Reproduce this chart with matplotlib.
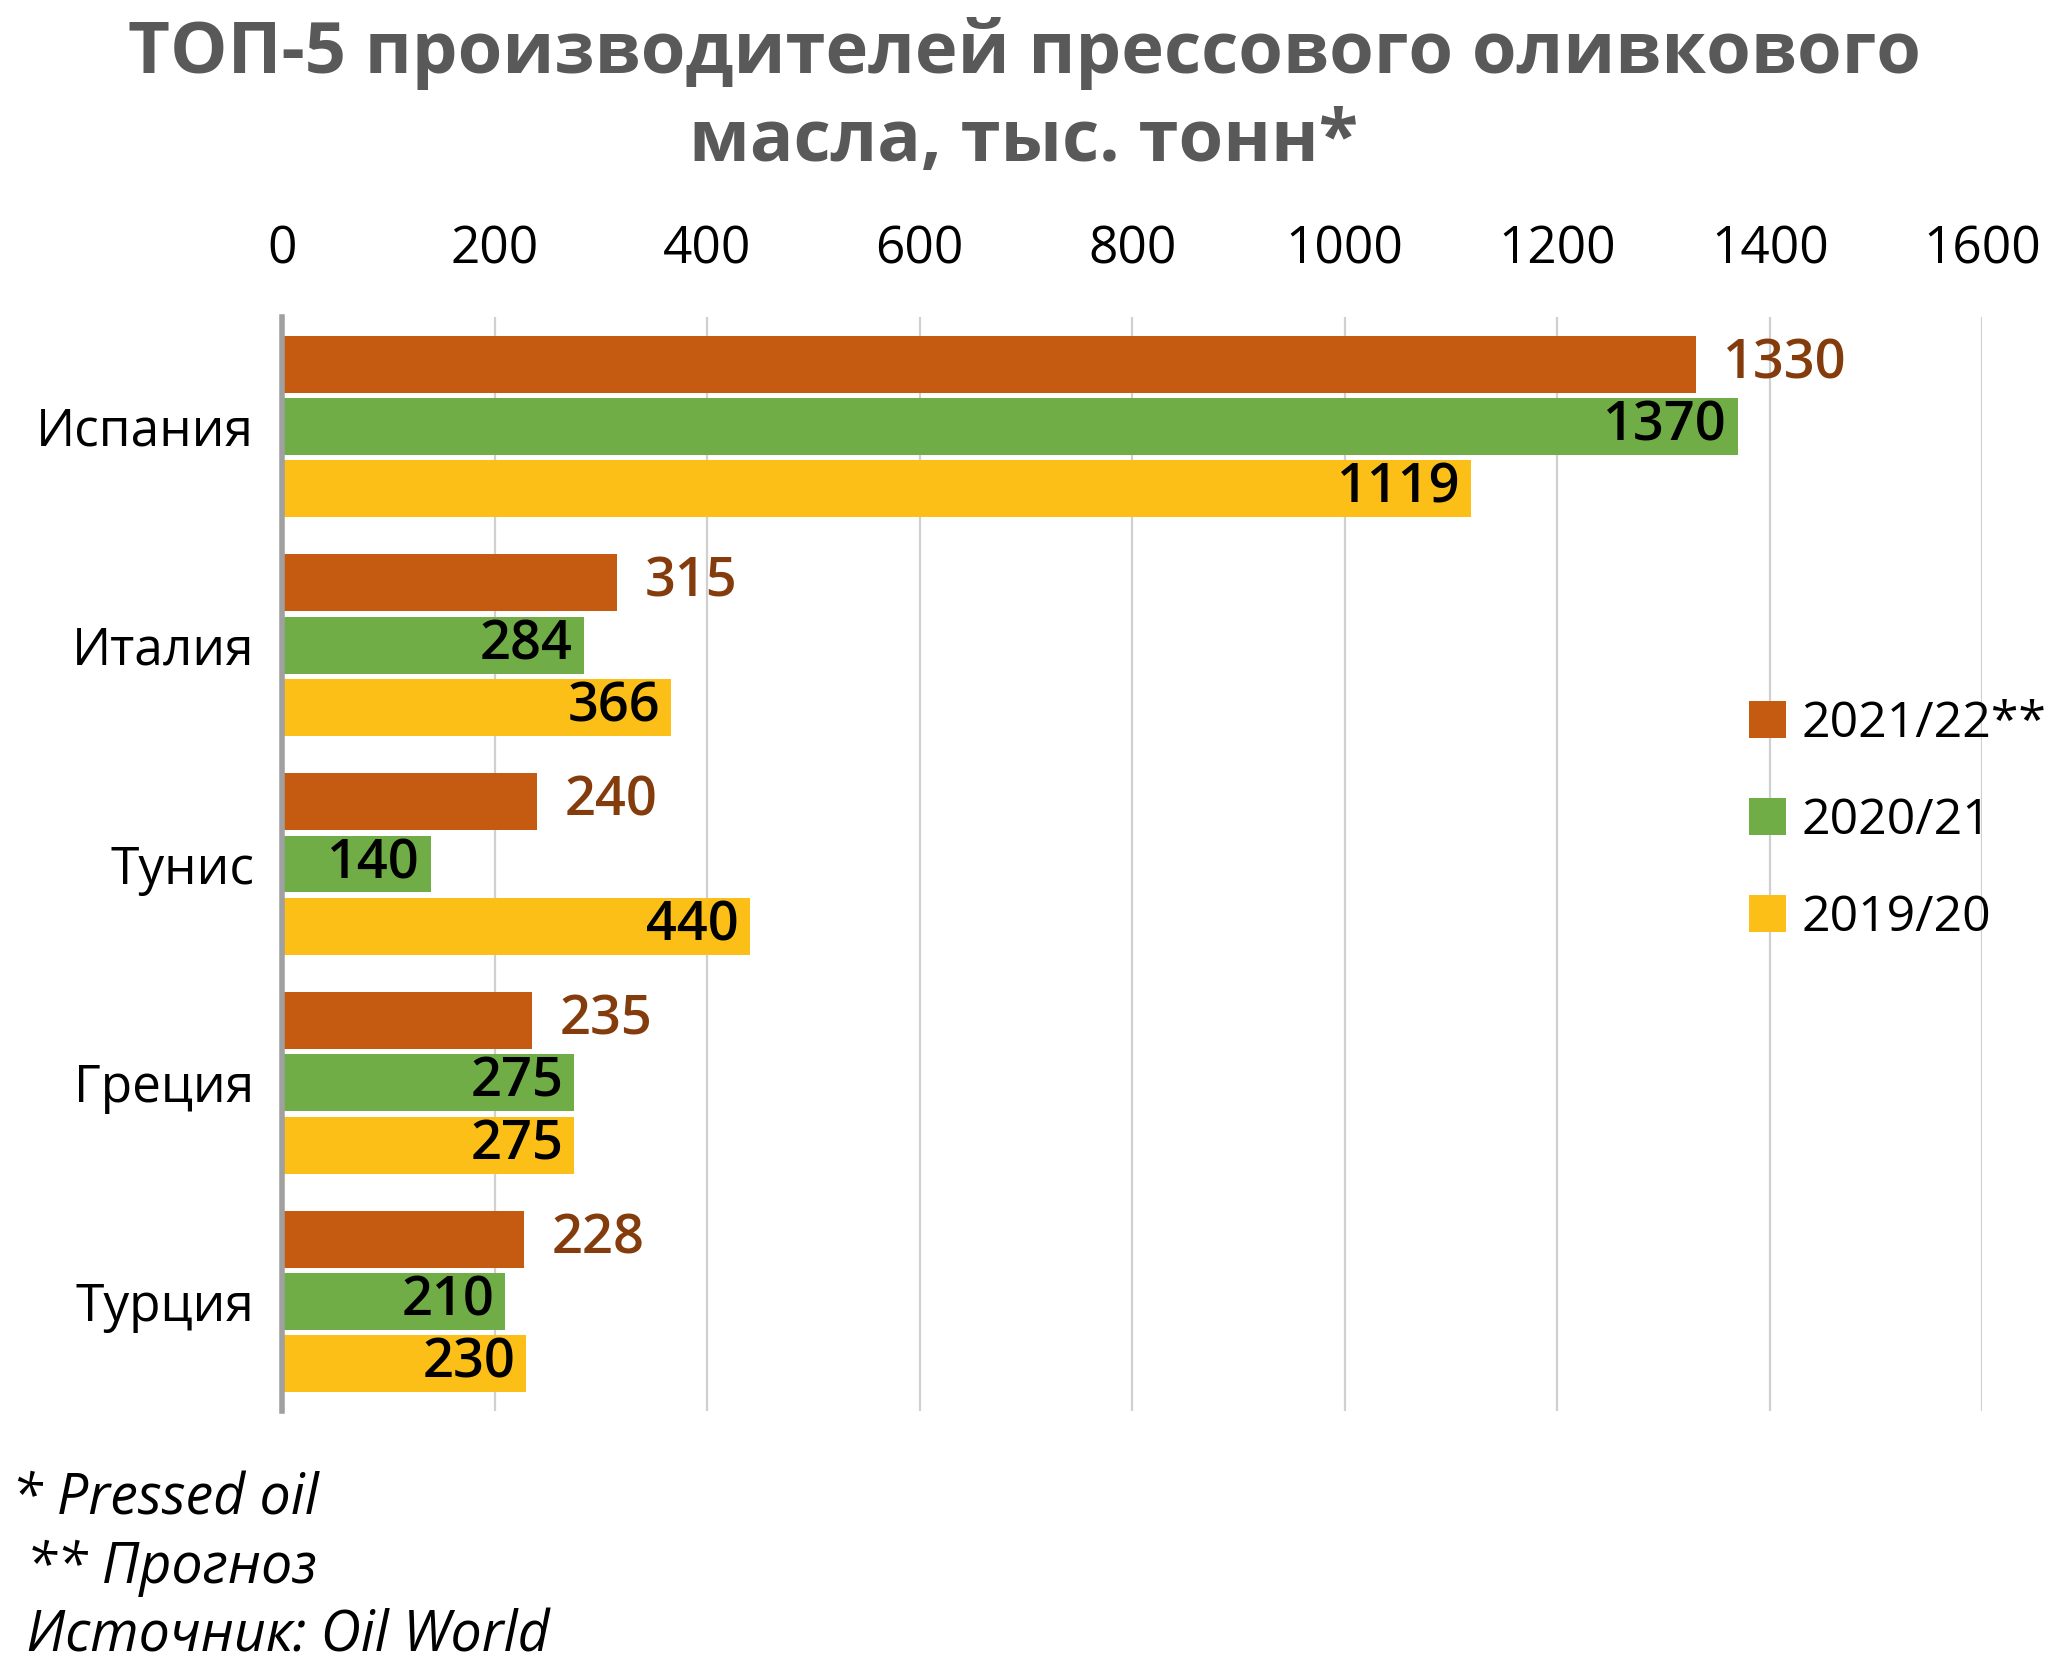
import numpy as np
import matplotlib
matplotlib.use("Agg")
import matplotlib.pyplot as plt

# данные
countries = ["Испания", "Италия", "Тунис", "Греция", "Турция"]
seasons = ["2021/22**", "2020/21", "2019/20"]
v2122 = [1330, 315, 240, 235, 228]
v2021 = [1370, 284, 140, 275, 210]
v1920 = [1119, 366, 440, 275, 230]
xticks = [0, 200, 400, 600, 800, 1000, 1200, 1400, 1600]
notes = ["* Pressed oil", " ** Прогноз", " Источник: Oil World"]

colors = ["#C55A11", "#70AD47", "#FBBF17"]

plt.rcParams["font.family"] = ["Open Sans", "DejaVu Sans"]

fig = plt.figure(figsize=(20.48, 16.69), dpi=100)
ax = fig.add_axes([0.1377, 0.1546, 0.968 - 0.1377, 0.810 - 0.1546])

y = np.arange(len(countries))
step = 0.285
h = 0.26
series = [v2122, v2021, v1920]
for i, (vals, c, lab) in enumerate(zip(series, colors, seasons)):
    bars = ax.barh(y + (i - 1) * step, vals, height=h, color=c, label=lab, zorder=2)
    for b, v in zip(bars, vals):
        cy = b.get_y() + b.get_height() / 2
        if i == 0:
            # подписи сезона 2021/22 снаружи столбца
            ax.annotate(str(v), (v, cy), xytext=(20, 0), textcoords="offset points",
                        ha="left", va="center", fontsize=39, fontweight="semibold",
                        color="#843C0C")
        else:
            ax.annotate(str(v), (v, cy), xytext=(-8, 0), textcoords="offset points",
                        ha="right", va="center", fontsize=39, fontweight="semibold",
                        color="black")

ax.set_xlim(0, 1600)
ax.set_ylim(4.5, -0.5)
ax.set_xticks(xticks)
ax.xaxis.tick_top()
ax.tick_params(axis="x", length=0, pad=30, labelsize=37)
ax.tick_params(axis="y", length=0, pad=20, labelsize=37)
ax.set_yticks(y)
ax.set_yticklabels(countries)
ax.grid(axis="x", color="#D0D0D0", linewidth=1.6, zorder=0)
for s in ["top", "right", "bottom"]:
    ax.spines[s].set_visible(False)
ax.spines["left"].set_color("#A0A0A0")
ax.spines["left"].set_linewidth(4)
ax.spines["left"].set_zorder(3)

fig.text(0.5, 0.990, "ТОП-5 производителей прессового оливкового\nмасла, тыс. тонн*",
         ha="center", va="top", fontsize=52, fontweight="bold", color="#595959",
         linespacing=1.3)

ax.legend(loc="upper left", bbox_to_anchor=(0.854, 0.581), bbox_transform=fig.transFigure,
          frameon=False, fontsize=36, handlelength=0.75, handleheight=0.75,
          handletextpad=0.3, labelspacing=0.95, borderpad=0, borderaxespad=0)

for txt, yy in zip(notes, [0.0923, 0.0515, 0.0105]):
    fig.text(0.006, yy, txt, ha="left", va="baseline", fontsize=40,
             fontstyle="italic", color="black")

fig.savefig("out.png", dpi=100)
